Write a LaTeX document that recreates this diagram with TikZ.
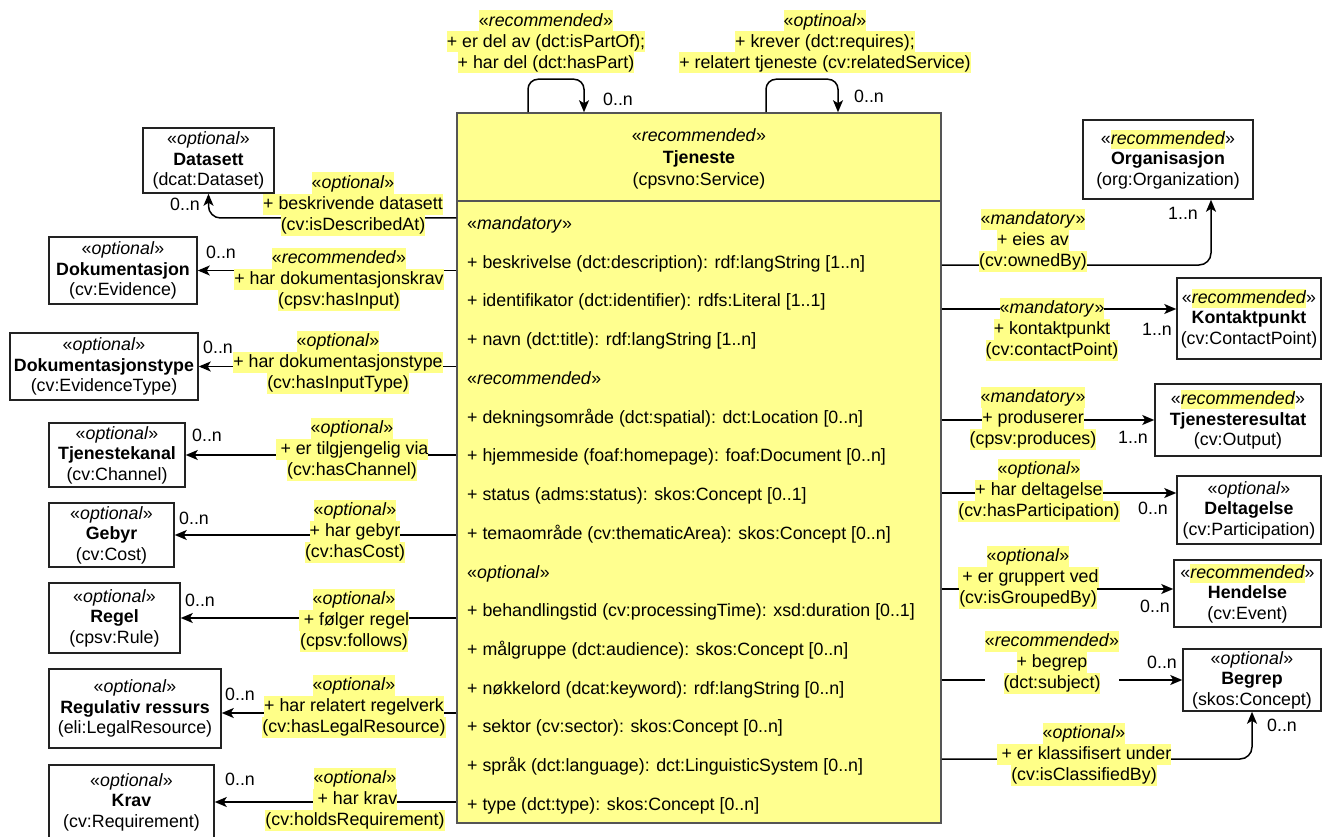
\documentclass[tikz,border=0pt]{standalone}
\usepackage{fontspec}
\setmainfont{Liberation Sans}
\usetikzlibrary{arrows.meta}
\definecolor{hl}{HTML}{FFFF88}
\definecolor{mainfill}{HTML}{FFFF8F}
\definecolor{edge}{HTML}{222222}
\definecolor{mainedge}{HTML}{555555}
\newcommand\hs{\rule[-5.3pt]{0pt}{21pt}}
\newcommand\hlb[1]{{\setlength{\fboxsep}{0pt}\colorbox{hl}{\hs#1}}}
\newcommand\hlw[1]{{\setlength{\fboxsep}{0pt}\colorbox{hl}{\rule[-4.6pt]{0pt}{19pt}#1}}}
\newcommand\st[1]{«\textit{#1}»}
\newcommand\lab[3]{\hlb{#1}\\\hlb{#2}\\\hlb{#3}}
\tikzset{
  base/.style={font=\fontsize{17.8}{21}\selectfont, inner sep=0pt, align=center},
  cls/.style={base, draw=edge, line width=1.5pt, fill=white, font=\fontsize{17.8}{20.5}\selectfont},
  lbl/.style={base},
  mult/.style={base},
  attr/.style={base, anchor=base west, align=left},
  conn/.style={draw=black, line width=1.5pt, -{Stealth[length=12pt,width=10pt,inset=3pt]}},
}
\begin{document}
\begin{tikzpicture}[x=1pt,y=-1pt]
\useasboundingbox (0,0) rectangle (1322,837);

% main class
\node[draw=mainedge, line width=1.5pt, fill=mainfill, minimum width=484pt, minimum height=710pt, inner sep=0pt] (main) at (699,468) {};
\draw[draw=mainedge, line width=1.5pt] (main.west |- 0,201) coordinate (sepl) -- (main.east |- 0,201) coordinate (sepr);
\node[base, font=\fontsize{17.8}{22}\selectfont] (mainhead) at (699,158.5) {\st{recommended}\\\textbf{Tjeneste}\\(cpsvno:Service)};
\foreach \t [count=\i from 0] in {
  {\st{mandatory}},
  {+ beskrivelse (dct:description): rdf:langString [1..n]},
  {+ identifikator (dct:identifier): rdfs:Literal [1..1]},
  {+ navn (dct:title): rdf:langString [1..n]},
  {\st{recommended}},
  {+ dekningsområde (dct:spatial): dct:Location [0..n]},
  {+ hjemmeside (foaf:homepage): foaf:Document [0..n]},
  {+ status (adms:status): skos:Concept [0..1]},
  {+ temaområde (cv:thematicArea): skos:Concept [0..n]},
  {\st{optional}},
  {+ behandlingstid (cv:processingTime): xsd:duration [0..1]},
  {+ målgruppe (dct:audience): skos:Concept [0..n]},
  {+ nøkkelord (dcat:keyword): rdf:langString [0..n]},
  {+ sektor (cv:sector): skos:Concept [0..n]},
  {+ språk (dct:language): dct:LinguisticSystem [0..n]},
  {+ type (dct:type): skos:Concept [0..n]}}
  \node[attr] (a\i) at (467,229.5+\i*38.73) {\t};

% left classes
\node[cls, minimum width=131pt, minimum height=65pt] (ds) at (208.5,160.5) {\st{optional}\\\textbf{Datasett}\\(dcat:Dataset)};
\node[cls, minimum width=148pt, minimum height=67pt] (dok) at (123,270.5) {\st{optional}\\\textbf{Dokumentasjon}\\(cv:Evidence)};
\node[cls, minimum width=188pt, minimum height=67pt] (doktype) at (104,366.5) {\st{optional}\\\textbf{Dokumentasjonstype}\\(cv:EvidenceType)};
\node[cls, minimum width=136pt, minimum height=64pt] (kanal) at (117,455) {\st{optional}\\\textbf{Tjenestekanal}\\(cv:Channel)};
\node[cls, minimum width=125pt, minimum height=64pt] (gebyr) at (111.5,535) {\st{optional}\\\textbf{Gebyr}\\(cv:Cost)};
\node[cls, minimum width=131pt, minimum height=70pt] (regel) at (114.5,618) {\st{optional}\\\textbf{Regel}\\(cpsv:Rule)};
\node[cls, minimum width=172pt, minimum height=79pt] (reg) at (135,708.5) {\st{optional}\\\textbf{Regulativ ressurs}\\(eli:LegalResource)};
\node[cls, minimum width=165pt, minimum height=74pt] (krav) at (131.5,802) {\st{optional}\\\textbf{Krav}\\(cv:Requirement)};

% right classes
\node[cls, minimum width=170pt, minimum height=79pt] (org) at (1168,159.5) {«\hlw{\textit{recommended}}»\\\textbf{Organisasjon}\\(org:Organization)};
\node[cls, minimum width=144pt, minimum height=81pt] (kp) at (1249,318.5) {«\hlw{\textit{recommended}}»\\\textbf{Kontaktpunkt}\\(cv:ContactPoint)};
\node[cls, minimum width=166pt, minimum height=72pt] (tr) at (1238,420) {«\hlw{\textit{recommended}}»\\\textbf{Tjenesteresultat}\\(cv:Output)};
\node[cls, minimum width=144pt, minimum height=68pt] (del) at (1249,510) {\st{optional}\\\textbf{Deltagelse}\\(cv:Participation)};
\node[cls, minimum width=147pt, minimum height=67pt] (hen) at (1247.5,593.5) {«\hlw{\textit{recommended}}»\\\textbf{Hendelse}\\(cv:Event)};
\node[cls, minimum width=138pt, minimum height=62pt] (beg) at (1252,680) {\st{optional}\\\textbf{Begrep}\\(skos:Concept)};

% connectors
\draw[conn, rounded corners=12pt] (main.west |- 0,218) -| (ds.south);
\draw[conn] (main.west |- dok.east) -- (dok.east);
\draw[conn] (main.west |- doktype.east) -- (doktype.east);
\draw[conn] (main.west |- kanal.east) -- (kanal.east);
\draw[conn] (main.west |- gebyr.east) -- (gebyr.east);
\draw[conn] (main.west |- regel.east) -- (regel.east);
\draw[conn] (main.west |- 0,713) -- (reg.east |- 0,713);
\draw[conn] (main.west |- krav.east) -- (krav.east);

\draw[conn, rounded corners=12pt] (main.east |- 0,265) -| ([xshift=43pt]org.south);
\draw[conn] (main.east |- 0,309) -- (kp.west |- 0,309);
\draw[conn] (main.east |- tr.west) -- (tr.west);
\draw[conn] (main.east |- 0,493) -- (del.west |- 0,493);
\draw[conn] (main.east |- 0,589) -- (hen.west |- 0,589);
\draw[conn] (main.east |- beg.west) -- (beg.west);
\draw[conn, rounded corners=12pt] (main.east |- 0,759) -| (beg.south);

\draw[conn, rounded corners=10pt] (main.north -| 528,0) -- ++(0,-33) -| (main.north -| 584,0);
\draw[conn, rounded corners=10pt] (main.north -| 766,0) -- ++(0,-33) -| (main.north -| 838,0);

% connector labels
\node[lbl] (l1) at (353,204) {\lab{\st{optional}}{+ beskrivende datasett}{(cv:isDescribedAt)}};
\node[lbl] (l2) at (339,279) {\lab{\st{recommended}}{+ har dokumentasjonskrav}{(cpsv:hasInput)}};
\node[lbl] (l3) at (338,362) {\lab{\st{optional}}{+ har dokumentasjonstype}{(cv:hasInputType)}};
\node[lbl] (l4) at (352,449) {\lab{\st{optional}}{\ + er tilgjengelig via}{(cv:hasChannel)}};
\node[lbl] (l5) at (355,531) {\lab{\st{optional}}{+ har gebyr}{(cv:hasCost)}};
\node[lbl] (l6) at (354,620) {\lab{\st{optional}}{\ + følger regel}{(cpsv:follows)}};
\node[lbl] (l7) at (354,706) {\lab{\st{optional}}{+ har relatert regelverk}{(cv:hasLegalResource)}};
\node[lbl] (l8) at (355,799) {\lab{\st{optional}}{\ + har krav}{(cv:holdsRequirement)}};

\node[lbl] (r1) at (1033,240) {\lab{\st{mandatory}}{+ eies av}{(cv:ownedBy)}};
\node[lbl] (r2) at (1052,329) {\lab{\st{mandatory}}{+ kontaktpunkt}{(cv:contactPoint)}};
\node[lbl] (r3) at (1033,418) {\lab{\st{mandatory}}{+ produserer}{(cpsv:produces)}};
\node[lbl] (r4) at (1039,490) {\lab{\st{optional}}{+ har deltagelse}{(cv:hasParticipation)}};
\node[lbl] (r5) at (1028,577) {\lab{\st{optional}}{\ + er gruppert ved}{(cv:isGroupedBy)}};
\node[lbl, fill=white] (r6) at (1052,662) {\lab{\st{recommended}}{+ begrep}{(dct:subject)}};
\node[lbl] (r7) at (1084,754) {\lab{\st{optional}}{\ + er klassifisert under}{(cv:isClassifiedBy)}};

\node[lbl] (t1) at (546,42) {\lab{\st{recommended}}{+ er del av (dct:isPartOf);}{+ har del (dct:hasPart)}};
\node[lbl] (t2) at (825,42) {\lab{\st{optinoal}}{+ krever (dct:requires);}{+ relatert tjeneste (cv:relatedService)}};

% multiplicities
\node[mult] (m1) at (185,204) {0..n};
\node[mult] (m2) at (221,252) {0..n};
\node[mult] (m3) at (218,347) {0..n};
\node[mult] (m4) at (207,435) {0..n};
\node[mult] (m5) at (194,518) {0..n};
\node[mult] (m6) at (200,600) {0..n};
\node[mult] (m7) at (240,694) {0..n};
\node[mult] (m8) at (240,779) {0..n};
\node[mult] (n1) at (1183,213) {1..n};
\node[mult] (n2) at (1157,329) {1..n};
\node[mult] (n3) at (1133,437) {1..n};
\node[mult] (n4) at (1153,508) {0..n};
\node[mult] (n5) at (1155,606) {0..n};
\node[mult] (n6) at (1162,662) {0..n};
\node[mult] (n7) at (1282,725) {0..n};
\node[mult] (p1) at (618,99) {0..n};
\node[mult] (p2) at (869,96) {0..n};
\end{tikzpicture}
\end{document}
